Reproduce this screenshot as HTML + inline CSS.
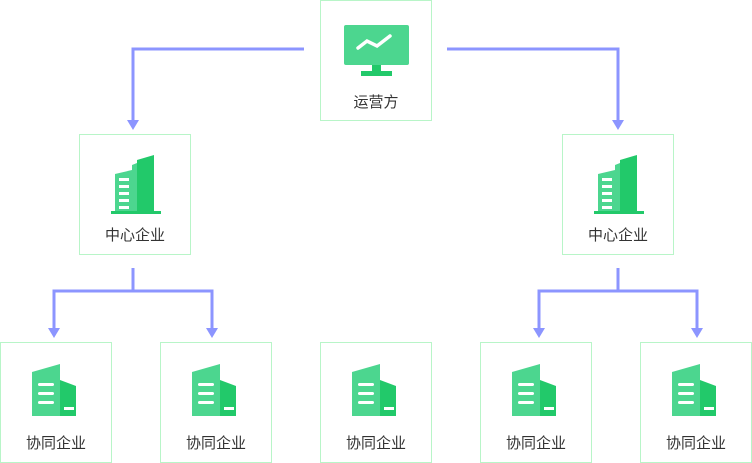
<!DOCTYPE html>
<html><head><meta charset="utf-8"><style>
html,body{margin:0;padding:0;background:#fff;width:752px;height:463px;overflow:hidden}
.b{position:absolute;width:112px;height:121px;border:1px solid #b8f5c8;box-sizing:border-box;background:#fff}
.t{position:absolute;left:0;width:100%;text-align:center;font-family:"Liberation Sans","Noto Sans CJK SC",sans-serif;font-size:15px;color:#333}
svg{position:absolute;left:0;top:0}
</style></head><body>
<svg width="752" height="463">
<g stroke="#8c95ff" stroke-width="3" fill="none">
<path d="M304 49H133V122"/>
<path d="M447 49H618V122"/>
<path d="M133 268V291H54V330M133 291H212V330"/>
<path d="M618 268V291H539V330M618 291H697V330"/>
</g>
<g fill="#8c95ff">
<path d="M127 120h12l-6 10z"/><path d="M612 120h12l-6 10z"/>
<path d="M48 328h12l-6 10z"/><path d="M206 328h12l-6 10z"/>
<path d="M533 328h12l-6 10z"/><path d="M691 328h12l-6 10z"/>
</g>
</svg>
<div class="b" style="left:320px;top:0"><svg width="112" height="121"><rect x="23" y="24" width="65" height="40" rx="2" fill="#4cd68f"/><path d="M37 47l9-7 10 5 13-10" stroke="#fff" stroke-width="3.5" fill="none" stroke-linecap="round"/><rect x="51" y="64" width="9" height="7" fill="#22c96a"/><rect x="40" y="70" width="31" height="5" fill="#22c96a"/></svg><div class="t" style="top:90px">运营方</div></div>
<div class="b" style="left:79px;top:134px"></div>
<div class="b" style="left:562px;top:134px"></div>
<div class="b" style="left:0;top:342px"></div>
<div class="b" style="left:160px;top:342px"></div>
<div class="b" style="left:320px;top:342px"></div>
<div class="b" style="left:480px;top:342px"></div>
<div class="b" style="left:640px;top:342px"></div>
<svg width="752" height="463" style="pointer-events:none">
<defs>
<g id="cb"><path d="M26 4l17-5v58h-17z" fill="#22c96a"/><path d="M21 9l5-2v50h-5z" fill="#4cd68f"/><path d="M4 18l17-4v43H4z" fill="#4cd68f"/><g fill="#fff"><rect x="8" y="22" width="10" height="3"/><rect x="8" y="29" width="10" height="3"/><rect x="8" y="36" width="10" height="3"/><rect x="8" y="43" width="10" height="3"/><rect x="8" y="50" width="10" height="3"/></g><rect x="0" y="55" width="50" height="3" fill="#22c96a"/></g>
<g id="sb"><path d="M0 8l28-8v52H0z" fill="#4cd68f"/><path d="M28 16l16 6v30H28z" fill="#22c96a"/><g fill="#fff"><rect x="6" y="19" width="16" height="3" rx="1.5"/><rect x="6" y="28" width="16" height="3" rx="1.5"/><rect x="6" y="37" width="16" height="3" rx="1.5"/><rect x="32" y="43" width="10" height="3"/></g></g>
</defs>
<use href="#cb" x="111" y="156"/><use href="#cb" x="594" y="156"/>
<use href="#sb" x="32" y="364"/><use href="#sb" x="192" y="364"/><use href="#sb" x="352" y="364"/><use href="#sb" x="512" y="364"/><use href="#sb" x="672" y="364"/>
</svg>
<div class="t" style="left:79px;width:112px;top:224px">中心企业</div>
<div class="t" style="left:562px;width:112px;top:224px">中心企业</div>
<div class="t" style="left:0;width:112px;top:432px">协同企业</div>
<div class="t" style="left:160px;width:112px;top:432px">协同企业</div>
<div class="t" style="left:320px;width:112px;top:432px">协同企业</div>
<div class="t" style="left:480px;width:112px;top:432px">协同企业</div>
<div class="t" style="left:640px;width:112px;top:432px">协同企业</div>
</body></html>
